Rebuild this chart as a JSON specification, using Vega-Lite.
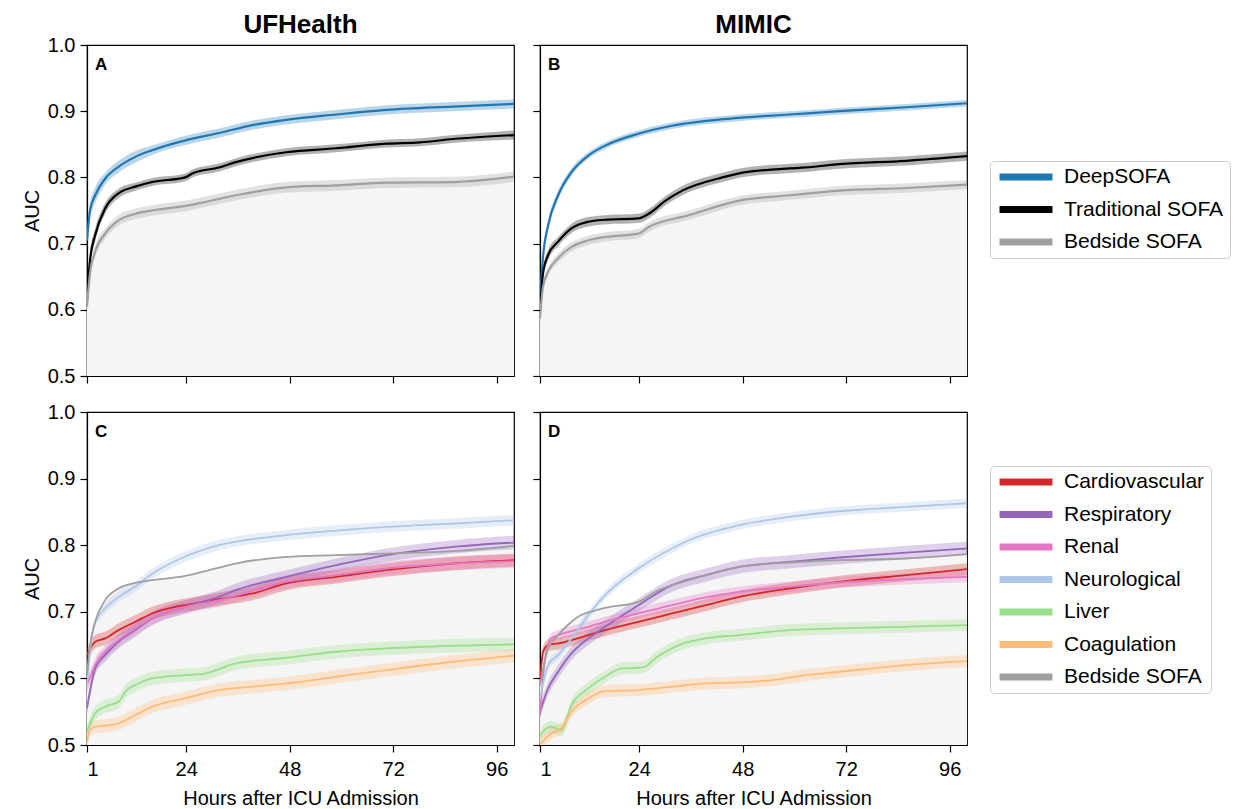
{
"$schema": "https://vega.github.io/schema/vega-lite/v6.json",
"background": "white",
"padding": {"left": 21, "top": 11, "right": 5, "bottom": 0},
"config": {
  "font": "Liberation Sans",
  "view": {"stroke": "black", "strokeWidth": 1.2},
  "axis": {"grid": false, "labelFontSize": 20, "titleFontSize": 20, "titleFontWeight": "normal", "tickSize": 7, "tickColor": "black", "tickWidth": 1.2, "domainColor": "black", "domainWidth": 1.2, "labelColor": "black", "titleColor": "black", "labelPadding": 5, "titlePadding": 5},
  "axisX": {"labelPadding": 7, "titlePadding": 9},
  "title": {"fontSize": 26, "fontWeight": "bold", "color": "black", "offset": -3},
  "legend": {"symbolType": "stroke", "symbolStrokeWidth": 7, "symbolSize": 2800, "clipHeight": 20, "labelFontSize": 21, "labelColor": "black", "rowPadding": 11.5, "strokeColor": "#cccccc", "cornerRadius": 4, "padding": 6, "fillColor": "white", "labelOffset": 8, "symbolOpacity": 1}
},
"datasets": {
"top": [
{"p":"A","s":"DeepSOFA","h":1,"v":0.705,"lo":0.693,"hi":0.717},
{"p":"A","s":"DeepSOFA","h":1.7,"v":0.75,"lo":0.738,"hi":0.762},
{"p":"A","s":"DeepSOFA","h":2.9,"v":0.773,"lo":0.761,"hi":0.785},
{"p":"A","s":"DeepSOFA","h":5.2,"v":0.798,"lo":0.789,"hi":0.807},
{"p":"A","s":"DeepSOFA","h":8.3,"v":0.816,"lo":0.807,"hi":0.825},
{"p":"A","s":"DeepSOFA","h":12.2,"v":0.831,"lo":0.822,"hi":0.84},
{"p":"A","s":"DeepSOFA","h":16.1,"v":0.841,"lo":0.834,"hi":0.848},
{"p":"A","s":"DeepSOFA","h":23.8,"v":0.856,"lo":0.849,"hi":0.863},
{"p":"A","s":"DeepSOFA","h":31.6,"v":0.867,"lo":0.86,"hi":0.874},
{"p":"A","s":"DeepSOFA","h":39.4,"v":0.879,"lo":0.872,"hi":0.886},
{"p":"A","s":"DeepSOFA","h":47.2,"v":0.887,"lo":0.88,"hi":0.894},
{"p":"A","s":"DeepSOFA","h":58.8,"v":0.895,"lo":0.888,"hi":0.902},
{"p":"A","s":"DeepSOFA","h":70.4,"v":0.902,"lo":0.895,"hi":0.909},
{"p":"A","s":"DeepSOFA","h":85.9,"v":0.907,"lo":0.9,"hi":0.914},
{"p":"A","s":"DeepSOFA","h":100,"v":0.911,"lo":0.904,"hi":0.918},
{"p":"A","s":"Traditional SOFA","h":1,"v":0.615,"lo":0.605,"hi":0.625},
{"p":"A","s":"Traditional SOFA","h":1.7,"v":0.675,"lo":0.665,"hi":0.685},
{"p":"A","s":"Traditional SOFA","h":2.9,"v":0.713,"lo":0.703,"hi":0.723},
{"p":"A","s":"Traditional SOFA","h":5.2,"v":0.753,"lo":0.745,"hi":0.761},
{"p":"A","s":"Traditional SOFA","h":8.3,"v":0.776,"lo":0.769,"hi":0.783},
{"p":"A","s":"Traditional SOFA","h":12.2,"v":0.786,"lo":0.78,"hi":0.792},
{"p":"A","s":"Traditional SOFA","h":16.1,"v":0.793,"lo":0.787,"hi":0.799},
{"p":"A","s":"Traditional SOFA","h":23.8,"v":0.8,"lo":0.794,"hi":0.806},
{"p":"A","s":"Traditional SOFA","h":25.4,"v":0.806,"lo":0.8,"hi":0.812},
{"p":"A","s":"Traditional SOFA","h":31.6,"v":0.815,"lo":0.809,"hi":0.821},
{"p":"A","s":"Traditional SOFA","h":35.5,"v":0.823,"lo":0.817,"hi":0.829},
{"p":"A","s":"Traditional SOFA","h":47.2,"v":0.838,"lo":0.832,"hi":0.844},
{"p":"A","s":"Traditional SOFA","h":58.8,"v":0.844,"lo":0.838,"hi":0.85},
{"p":"A","s":"Traditional SOFA","h":70.4,"v":0.851,"lo":0.845,"hi":0.857},
{"p":"A","s":"Traditional SOFA","h":78.2,"v":0.853,"lo":0.847,"hi":0.859},
{"p":"A","s":"Traditional SOFA","h":85.9,"v":0.858,"lo":0.852,"hi":0.864},
{"p":"A","s":"Traditional SOFA","h":100,"v":0.864,"lo":0.857,"hi":0.871},
{"p":"A","s":"Bedside SOFA","h":1,"v":0.605,"lo":0.595,"hi":0.615},
{"p":"A","s":"Bedside SOFA","h":1.7,"v":0.655,"lo":0.645,"hi":0.665},
{"p":"A","s":"Bedside SOFA","h":2.9,"v":0.688,"lo":0.679,"hi":0.697},
{"p":"A","s":"Bedside SOFA","h":5.2,"v":0.715,"lo":0.707,"hi":0.723},
{"p":"A","s":"Bedside SOFA","h":8.3,"v":0.735,"lo":0.727,"hi":0.743},
{"p":"A","s":"Bedside SOFA","h":12.2,"v":0.745,"lo":0.737,"hi":0.753},
{"p":"A","s":"Bedside SOFA","h":16.1,"v":0.75,"lo":0.742,"hi":0.758},
{"p":"A","s":"Bedside SOFA","h":23.8,"v":0.757,"lo":0.749,"hi":0.765},
{"p":"A","s":"Bedside SOFA","h":27.7,"v":0.762,"lo":0.754,"hi":0.77},
{"p":"A","s":"Bedside SOFA","h":35.5,"v":0.773,"lo":0.765,"hi":0.781},
{"p":"A","s":"Bedside SOFA","h":47.2,"v":0.785,"lo":0.777,"hi":0.793},
{"p":"A","s":"Bedside SOFA","h":58.8,"v":0.788,"lo":0.78,"hi":0.796},
{"p":"A","s":"Bedside SOFA","h":70.4,"v":0.792,"lo":0.784,"hi":0.8},
{"p":"A","s":"Bedside SOFA","h":85.9,"v":0.793,"lo":0.785,"hi":0.801},
{"p":"A","s":"Bedside SOFA","h":100,"v":0.801,"lo":0.793,"hi":0.809},
{"p":"B","s":"DeepSOFA","h":1,"v":0.613,"lo":0.605,"hi":0.621},
{"p":"B","s":"DeepSOFA","h":1.7,"v":0.68,"lo":0.672,"hi":0.688},
{"p":"B","s":"DeepSOFA","h":2.9,"v":0.728,"lo":0.72,"hi":0.736},
{"p":"B","s":"DeepSOFA","h":5.2,"v":0.773,"lo":0.766,"hi":0.78},
{"p":"B","s":"DeepSOFA","h":8.3,"v":0.808,"lo":0.802,"hi":0.814},
{"p":"B","s":"DeepSOFA","h":12.2,"v":0.833,"lo":0.828,"hi":0.838},
{"p":"B","s":"DeepSOFA","h":16.1,"v":0.848,"lo":0.843,"hi":0.853},
{"p":"B","s":"DeepSOFA","h":23.8,"v":0.866,"lo":0.861,"hi":0.871},
{"p":"B","s":"DeepSOFA","h":31.6,"v":0.878,"lo":0.873,"hi":0.883},
{"p":"B","s":"DeepSOFA","h":47.2,"v":0.89,"lo":0.885,"hi":0.895},
{"p":"B","s":"DeepSOFA","h":58.8,"v":0.895,"lo":0.89,"hi":0.9},
{"p":"B","s":"DeepSOFA","h":70.4,"v":0.9,"lo":0.895,"hi":0.905},
{"p":"B","s":"DeepSOFA","h":85.9,"v":0.906,"lo":0.901,"hi":0.911},
{"p":"B","s":"DeepSOFA","h":100,"v":0.912,"lo":0.907,"hi":0.917},
{"p":"B","s":"Traditional SOFA","h":1,"v":0.598,"lo":0.59,"hi":0.606},
{"p":"B","s":"Traditional SOFA","h":1.7,"v":0.655,"lo":0.647,"hi":0.663},
{"p":"B","s":"Traditional SOFA","h":2.9,"v":0.683,"lo":0.675,"hi":0.691},
{"p":"B","s":"Traditional SOFA","h":5.2,"v":0.703,"lo":0.696,"hi":0.71},
{"p":"B","s":"Traditional SOFA","h":8.3,"v":0.723,"lo":0.716,"hi":0.73},
{"p":"B","s":"Traditional SOFA","h":12.2,"v":0.733,"lo":0.726,"hi":0.74},
{"p":"B","s":"Traditional SOFA","h":16.1,"v":0.736,"lo":0.729,"hi":0.743},
{"p":"B","s":"Traditional SOFA","h":23.8,"v":0.738,"lo":0.731,"hi":0.745},
{"p":"B","s":"Traditional SOFA","h":26.2,"v":0.745,"lo":0.738,"hi":0.752},
{"p":"B","s":"Traditional SOFA","h":30.1,"v":0.765,"lo":0.758,"hi":0.772},
{"p":"B","s":"Traditional SOFA","h":34,"v":0.78,"lo":0.773,"hi":0.787},
{"p":"B","s":"Traditional SOFA","h":43.3,"v":0.8,"lo":0.793,"hi":0.807},
{"p":"B","s":"Traditional SOFA","h":48.7,"v":0.808,"lo":0.801,"hi":0.815},
{"p":"B","s":"Traditional SOFA","h":62.7,"v":0.815,"lo":0.808,"hi":0.822},
{"p":"B","s":"Traditional SOFA","h":70.4,"v":0.82,"lo":0.813,"hi":0.827},
{"p":"B","s":"Traditional SOFA","h":85.9,"v":0.825,"lo":0.818,"hi":0.832},
{"p":"B","s":"Traditional SOFA","h":100,"v":0.832,"lo":0.825,"hi":0.839},
{"p":"B","s":"Bedside SOFA","h":1,"v":0.587,"lo":0.579,"hi":0.595},
{"p":"B","s":"Bedside SOFA","h":1.7,"v":0.635,"lo":0.627,"hi":0.643},
{"p":"B","s":"Bedside SOFA","h":2.9,"v":0.658,"lo":0.651,"hi":0.665},
{"p":"B","s":"Bedside SOFA","h":5.2,"v":0.678,"lo":0.671,"hi":0.685},
{"p":"B","s":"Bedside SOFA","h":8.3,"v":0.695,"lo":0.688,"hi":0.702},
{"p":"B","s":"Bedside SOFA","h":12.2,"v":0.705,"lo":0.698,"hi":0.712},
{"p":"B","s":"Bedside SOFA","h":16.1,"v":0.71,"lo":0.703,"hi":0.717},
{"p":"B","s":"Bedside SOFA","h":23.8,"v":0.715,"lo":0.708,"hi":0.722},
{"p":"B","s":"Bedside SOFA","h":26.2,"v":0.725,"lo":0.718,"hi":0.732},
{"p":"B","s":"Bedside SOFA","h":35.5,"v":0.743,"lo":0.736,"hi":0.75},
{"p":"B","s":"Bedside SOFA","h":47.2,"v":0.765,"lo":0.758,"hi":0.772},
{"p":"B","s":"Bedside SOFA","h":58.8,"v":0.773,"lo":0.766,"hi":0.78},
{"p":"B","s":"Bedside SOFA","h":70.4,"v":0.78,"lo":0.773,"hi":0.787},
{"p":"B","s":"Bedside SOFA","h":85.9,"v":0.784,"lo":0.777,"hi":0.791},
{"p":"B","s":"Bedside SOFA","h":100,"v":0.789,"lo":0.782,"hi":0.796}
],
"bottom": [
{"p":"C","s":"Cardiovascular","h":1,"v":0.635,"lo":0.625,"hi":0.645},
{"p":"C","s":"Cardiovascular","h":2.9,"v":0.655,"lo":0.645,"hi":0.665},
{"p":"C","s":"Cardiovascular","h":5.2,"v":0.66,"lo":0.65,"hi":0.67},
{"p":"C","s":"Cardiovascular","h":8.3,"v":0.6725,"lo":0.6625,"hi":0.6825},
{"p":"C","s":"Cardiovascular","h":12.2,"v":0.685,"lo":0.675,"hi":0.695},
{"p":"C","s":"Cardiovascular","h":16.1,"v":0.6975,"lo":0.6875,"hi":0.7075},
{"p":"C","s":"Cardiovascular","h":21.5,"v":0.7075,"lo":0.6975,"hi":0.7175},
{"p":"C","s":"Cardiovascular","h":23.8,"v":0.71,"lo":0.7,"hi":0.72},
{"p":"C","s":"Cardiovascular","h":31.6,"v":0.719,"lo":0.709,"hi":0.729},
{"p":"C","s":"Cardiovascular","h":39.4,"v":0.7275,"lo":0.7175,"hi":0.7375},
{"p":"C","s":"Cardiovascular","h":47.2,"v":0.7425,"lo":0.7325,"hi":0.7525},
{"p":"C","s":"Cardiovascular","h":58.8,"v":0.7525,"lo":0.7425,"hi":0.7625},
{"p":"C","s":"Cardiovascular","h":70.4,"v":0.7625,"lo":0.7525,"hi":0.7725},
{"p":"C","s":"Cardiovascular","h":85.9,"v":0.7725,"lo":0.7625,"hi":0.7825},
{"p":"C","s":"Cardiovascular","h":100,"v":0.7775,"lo":0.7675,"hi":0.7875},
{"p":"C","s":"Respiratory","h":1,"v":0.555,"lo":0.545,"hi":0.565},
{"p":"C","s":"Respiratory","h":2.9,"v":0.615,"lo":0.605,"hi":0.625},
{"p":"C","s":"Respiratory","h":5.2,"v":0.635,"lo":0.625,"hi":0.645},
{"p":"C","s":"Respiratory","h":8.3,"v":0.655,"lo":0.645,"hi":0.665},
{"p":"C","s":"Respiratory","h":12.2,"v":0.6725,"lo":0.6625,"hi":0.6825},
{"p":"C","s":"Respiratory","h":16.1,"v":0.69,"lo":0.68,"hi":0.7},
{"p":"C","s":"Respiratory","h":23.8,"v":0.7075,"lo":0.6975,"hi":0.7175},
{"p":"C","s":"Respiratory","h":31.6,"v":0.7225,"lo":0.7125,"hi":0.7325},
{"p":"C","s":"Respiratory","h":35.5,"v":0.7325,"lo":0.7225,"hi":0.7425},
{"p":"C","s":"Respiratory","h":47.2,"v":0.7525,"lo":0.7425,"hi":0.7625},
{"p":"C","s":"Respiratory","h":58.8,"v":0.77,"lo":0.76,"hi":0.78},
{"p":"C","s":"Respiratory","h":70.4,"v":0.785,"lo":0.775,"hi":0.795},
{"p":"C","s":"Respiratory","h":85.9,"v":0.7975,"lo":0.7875,"hi":0.8075},
{"p":"C","s":"Respiratory","h":100,"v":0.804,"lo":0.794,"hi":0.814},
{"p":"C","s":"Renal","h":1,"v":0.59,"lo":0.58,"hi":0.6},
{"p":"C","s":"Renal","h":2.9,"v":0.62,"lo":0.61,"hi":0.63},
{"p":"C","s":"Renal","h":5.2,"v":0.64,"lo":0.63,"hi":0.65},
{"p":"C","s":"Renal","h":8.3,"v":0.6575,"lo":0.6475,"hi":0.6675},
{"p":"C","s":"Renal","h":12.2,"v":0.675,"lo":0.665,"hi":0.685},
{"p":"C","s":"Renal","h":16.1,"v":0.69,"lo":0.68,"hi":0.7},
{"p":"C","s":"Renal","h":23.8,"v":0.7075,"lo":0.6975,"hi":0.7175},
{"p":"C","s":"Renal","h":31.6,"v":0.7175,"lo":0.7075,"hi":0.7275},
{"p":"C","s":"Renal","h":47.2,"v":0.745,"lo":0.735,"hi":0.755},
{"p":"C","s":"Renal","h":58.8,"v":0.755,"lo":0.745,"hi":0.765},
{"p":"C","s":"Renal","h":70.4,"v":0.765,"lo":0.755,"hi":0.775},
{"p":"C","s":"Renal","h":85.9,"v":0.7725,"lo":0.7625,"hi":0.7825},
{"p":"C","s":"Renal","h":100,"v":0.776,"lo":0.766,"hi":0.786},
{"p":"C","s":"Neurological","h":1,"v":0.59,"lo":0.582,"hi":0.598},
{"p":"C","s":"Neurological","h":1.7,"v":0.64,"lo":0.632,"hi":0.648},
{"p":"C","s":"Neurological","h":2.9,"v":0.685,"lo":0.677,"hi":0.693},
{"p":"C","s":"Neurological","h":5.2,"v":0.705,"lo":0.697,"hi":0.713},
{"p":"C","s":"Neurological","h":8.3,"v":0.722,"lo":0.714,"hi":0.73},
{"p":"C","s":"Neurological","h":12.2,"v":0.738,"lo":0.73,"hi":0.746},
{"p":"C","s":"Neurological","h":16.1,"v":0.757,"lo":0.749,"hi":0.765},
{"p":"C","s":"Neurological","h":23.8,"v":0.783,"lo":0.775,"hi":0.791},
{"p":"C","s":"Neurological","h":31.6,"v":0.8,"lo":0.792,"hi":0.808},
{"p":"C","s":"Neurological","h":47.2,"v":0.815,"lo":0.807,"hi":0.823},
{"p":"C","s":"Neurological","h":58.8,"v":0.822,"lo":0.814,"hi":0.83},
{"p":"C","s":"Neurological","h":70.4,"v":0.8275,"lo":0.8195,"hi":0.8355},
{"p":"C","s":"Neurological","h":85.9,"v":0.8325,"lo":0.8245,"hi":0.8405},
{"p":"C","s":"Neurological","h":100,"v":0.8375,"lo":0.8295,"hi":0.8455},
{"p":"C","s":"Liver","h":1,"v":0.52,"lo":0.51,"hi":0.53},
{"p":"C","s":"Liver","h":2.9,"v":0.5475,"lo":0.5375,"hi":0.5575},
{"p":"C","s":"Liver","h":5.2,"v":0.5575,"lo":0.5475,"hi":0.5675},
{"p":"C","s":"Liver","h":8.3,"v":0.565,"lo":0.555,"hi":0.575},
{"p":"C","s":"Liver","h":10.2,"v":0.5825,"lo":0.5725,"hi":0.5925},
{"p":"C","s":"Liver","h":12.2,"v":0.59,"lo":0.58,"hi":0.6},
{"p":"C","s":"Liver","h":16.1,"v":0.6,"lo":0.59,"hi":0.61},
{"p":"C","s":"Liver","h":23.8,"v":0.605,"lo":0.595,"hi":0.615},
{"p":"C","s":"Liver","h":27.7,"v":0.6065,"lo":0.5965,"hi":0.6165},
{"p":"C","s":"Liver","h":35.5,"v":0.6225,"lo":0.6125,"hi":0.6325},
{"p":"C","s":"Liver","h":47.2,"v":0.631,"lo":0.621,"hi":0.641},
{"p":"C","s":"Liver","h":58.8,"v":0.64,"lo":0.63,"hi":0.65},
{"p":"C","s":"Liver","h":70.4,"v":0.645,"lo":0.635,"hi":0.655},
{"p":"C","s":"Liver","h":85.9,"v":0.649,"lo":0.639,"hi":0.659},
{"p":"C","s":"Liver","h":100,"v":0.651,"lo":0.641,"hi":0.661},
{"p":"C","s":"Coagulation","h":1,"v":0.505,"lo":0.495,"hi":0.515},
{"p":"C","s":"Coagulation","h":1.7,"v":0.5225,"lo":0.5125,"hi":0.5325},
{"p":"C","s":"Coagulation","h":2.9,"v":0.5275,"lo":0.5175,"hi":0.5375},
{"p":"C","s":"Coagulation","h":5.2,"v":0.529,"lo":0.519,"hi":0.539},
{"p":"C","s":"Coagulation","h":8.3,"v":0.5325,"lo":0.5225,"hi":0.5425},
{"p":"C","s":"Coagulation","h":12.2,"v":0.545,"lo":0.535,"hi":0.555},
{"p":"C","s":"Coagulation","h":16.1,"v":0.5575,"lo":0.5475,"hi":0.5675},
{"p":"C","s":"Coagulation","h":23.8,"v":0.57,"lo":0.56,"hi":0.58},
{"p":"C","s":"Coagulation","h":31.6,"v":0.5825,"lo":0.5725,"hi":0.5925},
{"p":"C","s":"Coagulation","h":39.4,"v":0.5875,"lo":0.5775,"hi":0.5975},
{"p":"C","s":"Coagulation","h":47.2,"v":0.5925,"lo":0.5825,"hi":0.6025},
{"p":"C","s":"Coagulation","h":58.8,"v":0.6025,"lo":0.5925,"hi":0.6125},
{"p":"C","s":"Coagulation","h":70.4,"v":0.6125,"lo":0.6025,"hi":0.6225},
{"p":"C","s":"Coagulation","h":85.9,"v":0.625,"lo":0.615,"hi":0.635},
{"p":"C","s":"Coagulation","h":100,"v":0.634,"lo":0.624,"hi":0.644},
{"p":"C","s":"Bedside SOFA","h":1,"v":0.605},
{"p":"C","s":"Bedside SOFA","h":1.7,"v":0.65},
{"p":"C","s":"Bedside SOFA","h":2.9,"v":0.685},
{"p":"C","s":"Bedside SOFA","h":5.2,"v":0.7175},
{"p":"C","s":"Bedside SOFA","h":8.3,"v":0.735},
{"p":"C","s":"Bedside SOFA","h":12.2,"v":0.7435},
{"p":"C","s":"Bedside SOFA","h":16.1,"v":0.7475},
{"p":"C","s":"Bedside SOFA","h":23.8,"v":0.754},
{"p":"C","s":"Bedside SOFA","h":27.7,"v":0.76},
{"p":"C","s":"Bedside SOFA","h":35.5,"v":0.7725},
{"p":"C","s":"Bedside SOFA","h":47.2,"v":0.7825},
{"p":"C","s":"Bedside SOFA","h":58.8,"v":0.785},
{"p":"C","s":"Bedside SOFA","h":70.4,"v":0.7875},
{"p":"C","s":"Bedside SOFA","h":85.9,"v":0.791},
{"p":"C","s":"Bedside SOFA","h":100,"v":0.799},
{"p":"D","s":"Cardiovascular","h":1,"v":0.59,"lo":0.581,"hi":0.599},
{"p":"D","s":"Cardiovascular","h":1.7,"v":0.64,"lo":0.631,"hi":0.649},
{"p":"D","s":"Cardiovascular","h":2.9,"v":0.65,"lo":0.641,"hi":0.659},
{"p":"D","s":"Cardiovascular","h":5.2,"v":0.6525,"lo":0.6435,"hi":0.6615},
{"p":"D","s":"Cardiovascular","h":8.3,"v":0.6575,"lo":0.6485,"hi":0.6665},
{"p":"D","s":"Cardiovascular","h":12.2,"v":0.665,"lo":0.656,"hi":0.674},
{"p":"D","s":"Cardiovascular","h":16.1,"v":0.6725,"lo":0.6635,"hi":0.6815},
{"p":"D","s":"Cardiovascular","h":23.8,"v":0.685,"lo":0.676,"hi":0.694},
{"p":"D","s":"Cardiovascular","h":31.6,"v":0.6975,"lo":0.6885,"hi":0.7065},
{"p":"D","s":"Cardiovascular","h":39.4,"v":0.71,"lo":0.701,"hi":0.719},
{"p":"D","s":"Cardiovascular","h":47.2,"v":0.7225,"lo":0.7135,"hi":0.7315},
{"p":"D","s":"Cardiovascular","h":58.8,"v":0.735,"lo":0.726,"hi":0.744},
{"p":"D","s":"Cardiovascular","h":70.4,"v":0.745,"lo":0.736,"hi":0.754},
{"p":"D","s":"Cardiovascular","h":85.9,"v":0.755,"lo":0.746,"hi":0.764},
{"p":"D","s":"Cardiovascular","h":100,"v":0.764,"lo":0.755,"hi":0.773},
{"p":"D","s":"Respiratory","h":1,"v":0.55,"lo":0.54,"hi":0.56},
{"p":"D","s":"Respiratory","h":2.9,"v":0.585,"lo":0.575,"hi":0.595},
{"p":"D","s":"Respiratory","h":5.2,"v":0.61,"lo":0.6,"hi":0.62},
{"p":"D","s":"Respiratory","h":8.3,"v":0.6375,"lo":0.6275,"hi":0.6475},
{"p":"D","s":"Respiratory","h":12.2,"v":0.66,"lo":0.65,"hi":0.67},
{"p":"D","s":"Respiratory","h":16.1,"v":0.6775,"lo":0.6675,"hi":0.6875},
{"p":"D","s":"Respiratory","h":23.8,"v":0.71,"lo":0.7,"hi":0.72},
{"p":"D","s":"Respiratory","h":31.6,"v":0.74,"lo":0.73,"hi":0.75},
{"p":"D","s":"Respiratory","h":39.4,"v":0.755,"lo":0.745,"hi":0.765},
{"p":"D","s":"Respiratory","h":47.2,"v":0.7675,"lo":0.7575,"hi":0.7775},
{"p":"D","s":"Respiratory","h":58.8,"v":0.775,"lo":0.765,"hi":0.785},
{"p":"D","s":"Respiratory","h":70.4,"v":0.7815,"lo":0.7715,"hi":0.7915},
{"p":"D","s":"Respiratory","h":85.9,"v":0.789,"lo":0.779,"hi":0.799},
{"p":"D","s":"Respiratory","h":100,"v":0.795,"lo":0.785,"hi":0.805},
{"p":"D","s":"Renal","h":1,"v":0.545,"lo":0.537,"hi":0.553},
{"p":"D","s":"Renal","h":2.1,"v":0.625,"lo":0.617,"hi":0.633},
{"p":"D","s":"Renal","h":3.6,"v":0.66,"lo":0.652,"hi":0.668},
{"p":"D","s":"Renal","h":5.2,"v":0.665,"lo":0.657,"hi":0.673},
{"p":"D","s":"Renal","h":8.3,"v":0.671,"lo":0.663,"hi":0.679},
{"p":"D","s":"Renal","h":12.2,"v":0.6775,"lo":0.6695,"hi":0.6855},
{"p":"D","s":"Renal","h":16.1,"v":0.685,"lo":0.677,"hi":0.693},
{"p":"D","s":"Renal","h":23.8,"v":0.6975,"lo":0.6895,"hi":0.7055},
{"p":"D","s":"Renal","h":31.6,"v":0.71,"lo":0.702,"hi":0.718},
{"p":"D","s":"Renal","h":39.4,"v":0.7215,"lo":0.7135,"hi":0.7295},
{"p":"D","s":"Renal","h":47.2,"v":0.73,"lo":0.722,"hi":0.738},
{"p":"D","s":"Renal","h":58.8,"v":0.7375,"lo":0.7295,"hi":0.7455},
{"p":"D","s":"Renal","h":70.4,"v":0.744,"lo":0.736,"hi":0.752},
{"p":"D","s":"Renal","h":85.9,"v":0.749,"lo":0.741,"hi":0.757},
{"p":"D","s":"Renal","h":100,"v":0.7525,"lo":0.7445,"hi":0.7605},
{"p":"D","s":"Neurological","h":1,"v":0.57,"lo":0.563,"hi":0.577},
{"p":"D","s":"Neurological","h":2.9,"v":0.62,"lo":0.613,"hi":0.627},
{"p":"D","s":"Neurological","h":5.2,"v":0.635,"lo":0.628,"hi":0.642},
{"p":"D","s":"Neurological","h":8.3,"v":0.66,"lo":0.653,"hi":0.667},
{"p":"D","s":"Neurological","h":12.2,"v":0.695,"lo":0.688,"hi":0.702},
{"p":"D","s":"Neurological","h":16.1,"v":0.725,"lo":0.718,"hi":0.732},
{"p":"D","s":"Neurological","h":23.8,"v":0.765,"lo":0.758,"hi":0.772},
{"p":"D","s":"Neurological","h":31.6,"v":0.795,"lo":0.788,"hi":0.802},
{"p":"D","s":"Neurological","h":35.5,"v":0.8075,"lo":0.8005,"hi":0.8145},
{"p":"D","s":"Neurological","h":47.2,"v":0.83,"lo":0.823,"hi":0.837},
{"p":"D","s":"Neurological","h":58.8,"v":0.8425,"lo":0.8355,"hi":0.8495},
{"p":"D","s":"Neurological","h":70.4,"v":0.851,"lo":0.844,"hi":0.858},
{"p":"D","s":"Neurological","h":85.9,"v":0.8575,"lo":0.8505,"hi":0.8645},
{"p":"D","s":"Neurological","h":100,"v":0.863,"lo":0.856,"hi":0.87},
{"p":"D","s":"Liver","h":1,"v":0.5125,"lo":0.5035,"hi":0.5215},
{"p":"D","s":"Liver","h":1.7,"v":0.52,"lo":0.511,"hi":0.529},
{"p":"D","s":"Liver","h":3.6,"v":0.5275,"lo":0.5185,"hi":0.5365},
{"p":"D","s":"Liver","h":6,"v":0.5225,"lo":0.5135,"hi":0.5315},
{"p":"D","s":"Liver","h":8.3,"v":0.56,"lo":0.551,"hi":0.569},
{"p":"D","s":"Liver","h":12.2,"v":0.585,"lo":0.576,"hi":0.594},
{"p":"D","s":"Liver","h":16.1,"v":0.6025,"lo":0.5935,"hi":0.6115},
{"p":"D","s":"Liver","h":20,"v":0.615,"lo":0.606,"hi":0.624},
{"p":"D","s":"Liver","h":23.8,"v":0.616,"lo":0.607,"hi":0.625},
{"p":"D","s":"Liver","h":25.4,"v":0.6175,"lo":0.6085,"hi":0.6265},
{"p":"D","s":"Liver","h":27.7,"v":0.63,"lo":0.621,"hi":0.639},
{"p":"D","s":"Liver","h":33.2,"v":0.65,"lo":0.641,"hi":0.659},
{"p":"D","s":"Liver","h":39.4,"v":0.66,"lo":0.651,"hi":0.669},
{"p":"D","s":"Liver","h":47.2,"v":0.665,"lo":0.656,"hi":0.674},
{"p":"D","s":"Liver","h":58.8,"v":0.6725,"lo":0.6635,"hi":0.6815},
{"p":"D","s":"Liver","h":70.4,"v":0.675,"lo":0.666,"hi":0.684},
{"p":"D","s":"Liver","h":85.9,"v":0.6775,"lo":0.6685,"hi":0.6865},
{"p":"D","s":"Liver","h":100,"v":0.68,"lo":0.671,"hi":0.689},
{"p":"D","s":"Coagulation","h":1,"v":0.5,"lo":0.491,"hi":0.509},
{"p":"D","s":"Coagulation","h":3.6,"v":0.5175,"lo":0.5085,"hi":0.5265},
{"p":"D","s":"Coagulation","h":6,"v":0.525,"lo":0.516,"hi":0.534},
{"p":"D","s":"Coagulation","h":8.3,"v":0.55,"lo":0.541,"hi":0.559},
{"p":"D","s":"Coagulation","h":12.2,"v":0.57,"lo":0.561,"hi":0.579},
{"p":"D","s":"Coagulation","h":16.1,"v":0.581,"lo":0.572,"hi":0.59},
{"p":"D","s":"Coagulation","h":23.8,"v":0.5825,"lo":0.5735,"hi":0.5915},
{"p":"D","s":"Coagulation","h":31.6,"v":0.5875,"lo":0.5785,"hi":0.5965},
{"p":"D","s":"Coagulation","h":39.4,"v":0.5925,"lo":0.5835,"hi":0.6015},
{"p":"D","s":"Coagulation","h":47.2,"v":0.594,"lo":0.585,"hi":0.603},
{"p":"D","s":"Coagulation","h":54.9,"v":0.5975,"lo":0.5885,"hi":0.6065},
{"p":"D","s":"Coagulation","h":62.7,"v":0.605,"lo":0.596,"hi":0.614},
{"p":"D","s":"Coagulation","h":70.4,"v":0.61,"lo":0.601,"hi":0.619},
{"p":"D","s":"Coagulation","h":85.9,"v":0.62,"lo":0.611,"hi":0.629},
{"p":"D","s":"Coagulation","h":100,"v":0.626,"lo":0.617,"hi":0.635},
{"p":"D","s":"Bedside SOFA","h":1,"v":0.59},
{"p":"D","s":"Bedside SOFA","h":2.9,"v":0.645},
{"p":"D","s":"Bedside SOFA","h":5.2,"v":0.665},
{"p":"D","s":"Bedside SOFA","h":8.3,"v":0.685},
{"p":"D","s":"Bedside SOFA","h":10.2,"v":0.694},
{"p":"D","s":"Bedside SOFA","h":12.2,"v":0.699},
{"p":"D","s":"Bedside SOFA","h":16.1,"v":0.706},
{"p":"D","s":"Bedside SOFA","h":23.8,"v":0.715},
{"p":"D","s":"Bedside SOFA","h":27.7,"v":0.73},
{"p":"D","s":"Bedside SOFA","h":35.5,"v":0.7475},
{"p":"D","s":"Bedside SOFA","h":47.2,"v":0.7675},
{"p":"D","s":"Bedside SOFA","h":58.8,"v":0.774},
{"p":"D","s":"Bedside SOFA","h":70.4,"v":0.7775},
{"p":"D","s":"Bedside SOFA","h":85.9,"v":0.78},
{"p":"D","s":"Bedside SOFA","h":100,"v":0.7865}
]
},
"resolve": {"scale": {"color": "independent", "fill": "independent"}},
"spacing": 14,
"vconcat": [
{
 "spacing": 16,
 "hconcat": [
  {
   "width": 427, "height": 331,
   "title": {"text": "UFHealth", "offset": -3},
   "layer": [
    {"data": {"name": "top"}, "transform": [{"filter": "datum.p === 'A' && datum.s === 'Bedside SOFA'"}],
     "mark": {"type": "area", "color": "#f5f5f5", "clip": true, "interpolate": "monotone"},
     "encoding": {
      "x": {"field": "h", "type": "quantitative", "scale": {"domain": [1, 100], "nice": false}, "axis": {"values": [1, 24, 48, 72, 96], "labels": false, "title": null}},
      "y": {"field": "v", "type": "quantitative", "scale": {"domain": [0.5, 1.0], "nice": false}, "axis": {"values": [0.5, 0.6, 0.7, 0.8, 0.9, 1.0], "format": ".1f", "title": "AUC"}},
      "y2": {"datum": 0.5}}},
    {"data": {"name": "top"}, "transform": [{"filter": "datum.p === 'A'"}],
     "mark": {"type": "area", "opacity": 0.3, "clip": true, "interpolate": "monotone"},
     "encoding": {
      "x": {"field": "h", "type": "quantitative", "axis": {"values": [1, 24, 48, 72, 96], "labels": false, "title": null}},
      "y": {"field": "lo", "type": "quantitative", "axis": {"values": [0.5, 0.6, 0.7, 0.8, 0.9, 1.0], "format": ".1f", "title": "AUC"}},
      "y2": {"field": "hi"},
      "fill": {"field": "s", "type": "nominal", "scale": {"domain": ["Bedside SOFA", "DeepSOFA", "Traditional SOFA"], "range": ["#a0a0a0", "#1f77b4", "#000000"]}, "legend": null}}},
    {"data": {"name": "top"}, "transform": [{"filter": "datum.p === 'A'"}],
     "mark": {"type": "line", "strokeWidth": 2.2, "clip": true, "interpolate": "monotone"},
     "encoding": {
      "x": {"field": "h", "type": "quantitative", "axis": {"values": [1, 24, 48, 72, 96], "labels": false, "title": null}},
      "y": {"field": "v", "type": "quantitative", "axis": {"values": [0.5, 0.6, 0.7, 0.8, 0.9, 1.0], "format": ".1f", "title": "AUC"}},
      "color": {"field": "s", "type": "nominal", "scale": {"domain": ["DeepSOFA", "Traditional SOFA", "Bedside SOFA"], "range": ["#1f77b4", "#000000", "#a0a0a0"]}, "legend": {"title": null, "orient": "none", "legendX": 903, "legendY": 116}}}},
    {"data": {"values": [{"t": "A"}]},
     "mark": {"type": "text", "align": "left", "baseline": "top", "dx": 8, "dy": 12, "fontSize": 17, "fontWeight": "bold", "color": "black"},
     "encoding": {"x": {"datum": 1, "type": "quantitative", "axis": {"values": [1, 24, 48, 72, 96], "labels": false, "title": null}}, "y": {"datum": 1.0, "type": "quantitative", "axis": {"values": [0.5, 0.6, 0.7, 0.8, 0.9, 1.0], "format": ".1f", "title": "AUC"}}, "text": {"field": "t"}}}
   ]
  },
  {
   "width": 427, "height": 331,
   "title": {"text": "MIMIC", "offset": 6},
   "layer": [
    {"data": {"name": "top"}, "transform": [{"filter": "datum.p === 'B' && datum.s === 'Bedside SOFA'"}],
     "mark": {"type": "area", "color": "#f5f5f5", "clip": true, "interpolate": "monotone"},
     "encoding": {
      "x": {"field": "h", "type": "quantitative", "scale": {"domain": [1, 100], "nice": false}, "axis": {"values": [1, 24, 48, 72, 96], "labels": false, "title": null}},
      "y": {"field": "v", "type": "quantitative", "scale": {"domain": [0.5, 1.0], "nice": false}, "axis": {"values": [0.5, 0.6, 0.7, 0.8, 0.9, 1.0], "labels": false, "title": null}},
      "y2": {"datum": 0.5}}},
    {"data": {"name": "top"}, "transform": [{"filter": "datum.p === 'B'"}],
     "mark": {"type": "area", "opacity": 0.3, "clip": true, "interpolate": "monotone"},
     "encoding": {
      "x": {"field": "h", "type": "quantitative", "axis": {"values": [1, 24, 48, 72, 96], "labels": false, "title": null}},
      "y": {"field": "lo", "type": "quantitative", "axis": {"values": [0.5, 0.6, 0.7, 0.8, 0.9, 1.0], "labels": false, "title": null}},
      "y2": {"field": "hi"},
      "fill": {"field": "s", "type": "nominal", "scale": {"domain": ["Bedside SOFA", "DeepSOFA", "Traditional SOFA"], "range": ["#a0a0a0", "#1f77b4", "#000000"]}, "legend": null}}},
    {"data": {"name": "top"}, "transform": [{"filter": "datum.p === 'B'"}],
     "mark": {"type": "line", "strokeWidth": 2.2, "clip": true, "interpolate": "monotone"},
     "encoding": {
      "x": {"field": "h", "type": "quantitative", "axis": {"values": [1, 24, 48, 72, 96], "labels": false, "title": null}},
      "y": {"field": "v", "type": "quantitative", "axis": {"values": [0.5, 0.6, 0.7, 0.8, 0.9, 1.0], "labels": false, "title": null}},
      "color": {"field": "s", "type": "nominal", "scale": {"domain": ["DeepSOFA", "Traditional SOFA", "Bedside SOFA"], "range": ["#1f77b4", "#000000", "#a0a0a0"]}, "legend": {"title": null, "orient": "none", "legendX": 903, "legendY": 116}}}},
    {"data": {"values": [{"t": "B"}]},
     "mark": {"type": "text", "align": "left", "baseline": "top", "dx": 8, "dy": 12, "fontSize": 17, "fontWeight": "bold", "color": "black"},
     "encoding": {"x": {"datum": 1, "type": "quantitative", "axis": {"values": [1, 24, 48, 72, 96], "labels": false, "title": null}}, "y": {"datum": 1.0, "type": "quantitative", "axis": {"values": [0.5, 0.6, 0.7, 0.8, 0.9, 1.0], "labels": false, "title": null}}, "text": {"field": "t"}}}
   ]
  }
 ]
},
{
 "spacing": 16,
 "hconcat": [
  {
   "width": 427, "height": 333,
   "layer": [
    {"data": {"name": "bottom"}, "transform": [{"filter": "datum.p === 'C' && datum.s === 'Bedside SOFA'"}],
     "mark": {"type": "area", "color": "#f5f5f5", "clip": true, "interpolate": "monotone"},
     "encoding": {
      "x": {"field": "h", "type": "quantitative", "scale": {"domain": [1, 100], "nice": false}, "axis": {"values": [1, 24, 48, 72, 96], "title": "Hours after ICU Admission"}},
      "y": {"field": "v", "type": "quantitative", "scale": {"domain": [0.5, 1.0], "nice": false}, "axis": {"values": [0.5, 0.6, 0.7, 0.8, 0.9, 1.0], "format": ".1f", "title": "AUC"}},
      "y2": {"datum": 0.5}}},
    {"data": {"name": "bottom"}, "transform": [{"filter": "datum.p === 'C'"}],
     "mark": {"type": "area", "opacity": 0.3, "clip": true, "interpolate": "monotone"},
     "encoding": {
      "x": {"field": "h", "type": "quantitative", "axis": {"values": [1, 24, 48, 72, 96], "title": "Hours after ICU Admission"}},
      "y": {"field": "lo", "type": "quantitative", "axis": {"values": [0.5, 0.6, 0.7, 0.8, 0.9, 1.0], "format": ".1f", "title": "AUC"}},
      "y2": {"field": "hi"},
      "fill": {"field": "s", "type": "nominal", "scale": {"domain": ["Bedside SOFA", "Coagulation", "Liver", "Neurological", "Renal", "Respiratory", "Cardiovascular"], "range": ["#a0a0a0", "#ffbb78", "#98df8a", "#aec7e8", "#e377c2", "#9467bd", "#d62728"]}, "legend": null}}},
    {"data": {"name": "bottom"}, "transform": [{"filter": "datum.p === 'C'"}],
     "mark": {"type": "line", "strokeWidth": 1.8, "clip": true, "interpolate": "monotone"},
     "encoding": {
      "x": {"field": "h", "type": "quantitative", "axis": {"values": [1, 24, 48, 72, 96], "title": "Hours after ICU Admission"}},
      "y": {"field": "v", "type": "quantitative", "axis": {"values": [0.5, 0.6, 0.7, 0.8, 0.9, 1.0], "format": ".1f", "title": "AUC"}},
      "color": {"field": "s", "type": "nominal", "scale": {"domain": ["Cardiovascular", "Respiratory", "Renal", "Neurological", "Liver", "Coagulation", "Bedside SOFA"], "range": ["#d62728", "#9467bd", "#e377c2", "#aec7e8", "#98df8a", "#ffbb78", "#a0a0a0"]}, "legend": {"title": null, "orient": "none", "legendX": 903, "legendY": 54}}}},
    {"data": {"values": [{"t": "C"}]},
     "mark": {"type": "text", "align": "left", "baseline": "top", "dx": 8, "dy": 12, "fontSize": 17, "fontWeight": "bold", "color": "black"},
     "encoding": {"x": {"datum": 1, "type": "quantitative", "axis": {"values": [1, 24, 48, 72, 96], "title": "Hours after ICU Admission"}}, "y": {"datum": 1.0, "type": "quantitative", "axis": {"values": [0.5, 0.6, 0.7, 0.8, 0.9, 1.0], "format": ".1f", "title": "AUC"}}, "text": {"field": "t"}}}
   ]
  },
  {
   "width": 427, "height": 333,
   "layer": [
    {"data": {"name": "bottom"}, "transform": [{"filter": "datum.p === 'D' && datum.s === 'Bedside SOFA'"}],
     "mark": {"type": "area", "color": "#f5f5f5", "clip": true, "interpolate": "monotone"},
     "encoding": {
      "x": {"field": "h", "type": "quantitative", "scale": {"domain": [1, 100], "nice": false}, "axis": {"values": [1, 24, 48, 72, 96], "title": "Hours after ICU Admission"}},
      "y": {"field": "v", "type": "quantitative", "scale": {"domain": [0.5, 1.0], "nice": false}, "axis": {"values": [0.5, 0.6, 0.7, 0.8, 0.9, 1.0], "labels": false, "title": null}},
      "y2": {"datum": 0.5}}},
    {"data": {"name": "bottom"}, "transform": [{"filter": "datum.p === 'D'"}],
     "mark": {"type": "area", "opacity": 0.3, "clip": true, "interpolate": "monotone"},
     "encoding": {
      "x": {"field": "h", "type": "quantitative", "axis": {"values": [1, 24, 48, 72, 96], "title": "Hours after ICU Admission"}},
      "y": {"field": "lo", "type": "quantitative", "axis": {"values": [0.5, 0.6, 0.7, 0.8, 0.9, 1.0], "labels": false, "title": null}},
      "y2": {"field": "hi"},
      "fill": {"field": "s", "type": "nominal", "scale": {"domain": ["Bedside SOFA", "Coagulation", "Liver", "Neurological", "Renal", "Respiratory", "Cardiovascular"], "range": ["#a0a0a0", "#ffbb78", "#98df8a", "#aec7e8", "#e377c2", "#9467bd", "#d62728"]}, "legend": null}}},
    {"data": {"name": "bottom"}, "transform": [{"filter": "datum.p === 'D'"}],
     "mark": {"type": "line", "strokeWidth": 1.8, "clip": true, "interpolate": "monotone"},
     "encoding": {
      "x": {"field": "h", "type": "quantitative", "axis": {"values": [1, 24, 48, 72, 96], "title": "Hours after ICU Admission"}},
      "y": {"field": "v", "type": "quantitative", "axis": {"values": [0.5, 0.6, 0.7, 0.8, 0.9, 1.0], "labels": false, "title": null}},
      "color": {"field": "s", "type": "nominal", "scale": {"domain": ["Cardiovascular", "Respiratory", "Renal", "Neurological", "Liver", "Coagulation", "Bedside SOFA"], "range": ["#d62728", "#9467bd", "#e377c2", "#aec7e8", "#98df8a", "#ffbb78", "#a0a0a0"]}, "legend": {"title": null, "orient": "none", "legendX": 903, "legendY": 54}}}},
    {"data": {"values": [{"t": "D"}]},
     "mark": {"type": "text", "align": "left", "baseline": "top", "dx": 8, "dy": 12, "fontSize": 17, "fontWeight": "bold", "color": "black"},
     "encoding": {"x": {"datum": 1, "type": "quantitative", "axis": {"values": [1, 24, 48, 72, 96], "title": "Hours after ICU Admission"}}, "y": {"datum": 1.0, "type": "quantitative", "axis": {"values": [0.5, 0.6, 0.7, 0.8, 0.9, 1.0], "labels": false, "title": null}}, "text": {"field": "t"}}}
   ]
  }
 ]
}
]
}
